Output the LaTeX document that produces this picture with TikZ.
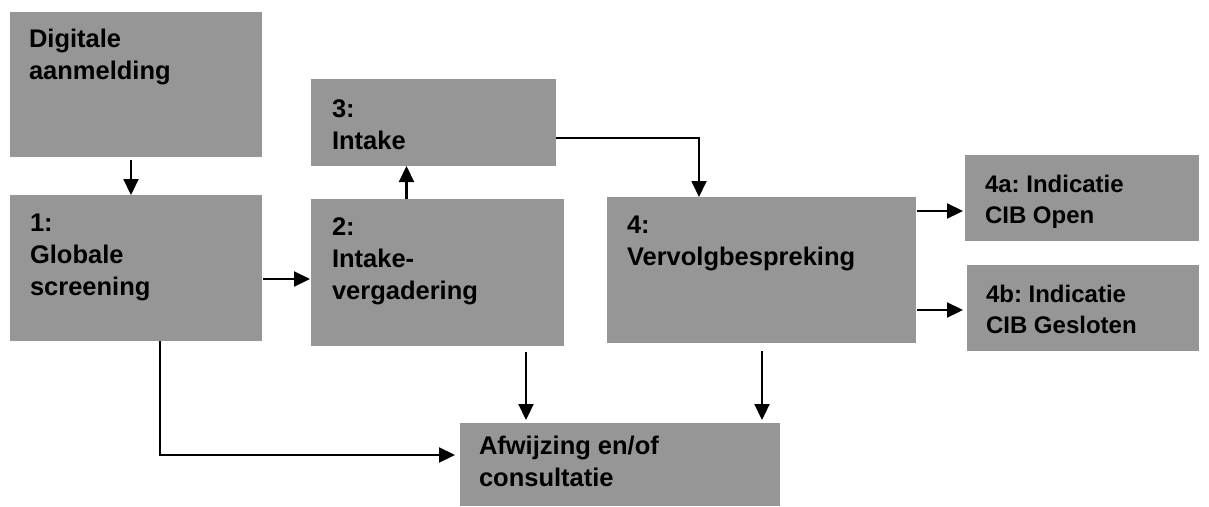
\documentclass[tikz,border=0pt]{standalone}
\usepackage{fontspec}
\setmainfont{Liberation Sans}
\usetikzlibrary{arrows.meta}
\definecolor{boxgray}{RGB}{150,150,150}
\frenchspacing
\begin{document}
\begin{tikzpicture}[x=1pt,y=-1pt,
  box/.style={fill=boxgray,draw=none,inner sep=0pt,outer sep=0pt,anchor=north west},
  txt/.style={anchor=base west,inner sep=0pt,outer sep=0pt,font=\bfseries\fontsize{25.5}{32}\selectfont},
  txtsm/.style={txt,font=\bfseries\fontsize{24}{31}\selectfont},
  arr/.style={line width=2.2pt,-{Triangle[length=16pt,width=15pt]}},
  ln/.style={line width=2.2pt}]
\useasboundingbox (0,0) rectangle (1209,506);
% boxes
\node[box,minimum width=252pt,minimum height=145pt] (d0) at (10,12) {};
\node[box,minimum width=252pt,minimum height=146pt] (s1) at (10,195) {};
\node[box,minimum width=253pt,minimum height=147pt] (s2) at (311,199) {};
\node[box,minimum width=245pt,minimum height=87pt] (s3) at (311,79) {};
\node[box,minimum width=309pt,minimum height=146pt] (s4) at (607,197) {};
\node[box,minimum width=234pt,minimum height=86pt] (s4a) at (965,155) {};
\node[box,minimum width=232pt,minimum height=86pt] (s4b) at (967,265) {};
\node[box,minimum width=320pt,minimum height=83pt] (af) at (460,423) {};
% texts
\node[txt] (d0t) at (29,47) {\vtop{\hbox{Digitale}\hbox{aanmelding}}};
\node[txt] (s1t) at (30,231) {\vtop{\hbox{1:}\hbox{Globale}\hbox{screening}}};
\node[txt] (s2t) at (332,235) {\vtop{\hbox{2:}\hbox{Intake-}\hbox{vergadering}}};
\node[txt] (s3t) at (332,117) {\vtop{\hbox{3:}\hbox{Intake}}};
\node[txt] (s4t) at (627,233) {\vtop{\hbox{4:}\hbox{Vervolgbespreking}}};
\node[txtsm] (s4at) at (985,192) {\vtop{\hbox{4a: Indicatie}\hbox{CIB Open}}};
\node[txtsm] (s4bt) at (986,302) {\vtop{\hbox{4b: Indicatie}\hbox{CIB Gesloten}}};
\node[txt] (aft) at (479,454) {\vtop{\hbox{Afwijzing en/of}\hbox{consultatie}}};
% helper coordinates
\coordinate (c1) at ([xshift=150pt]s1.south west);
\coordinate (c1b) at (c1 |- 0,455);
\coordinate (c2) at ([xshift=215pt]s2.south west);
\coordinate (c4) at ([xshift=155pt]s4.south west);
\coordinate (c3) at ([xshift=92pt]s4.north west);
\coordinate (c3b) at (c3 |- 0,138);
% connectors
\draw[arr,shorten <=3pt] ([xshift=-5pt]d0.south) -- ([xshift=-5pt]s1.north);
\draw[arr,shorten <=1pt,shorten >=1pt] (s1.east |- 0,279) -- (s2.west |- 0,279);
\draw[arr] ([xshift=-31pt]s2.north) -- ([xshift=-31pt]s2.north |- s3.south);
\draw[arr,line width=1.8pt] (s3.east |- c3b) -- (c3b) -- (c3);
\draw[arr,shorten <=1pt,shorten >=2pt] (s4.east |- 0,211) -- (s4a.west |- 0,211);
\draw[arr,shorten <=1pt,shorten >=4pt] (s4.east |- 0,310) -- (s4b.west |- 0,310);
\draw[arr,shorten <=6pt,shorten >=3pt] (c2) -- (c2 |- af.north);
\draw[arr,shorten <=8pt,shorten >=3pt] (c4) -- (c4 |- af.north);
\draw[arr,shorten >=5pt] (c1) -- (c1b) -- (af.west |- c1b);
\end{tikzpicture}
\end{document}
